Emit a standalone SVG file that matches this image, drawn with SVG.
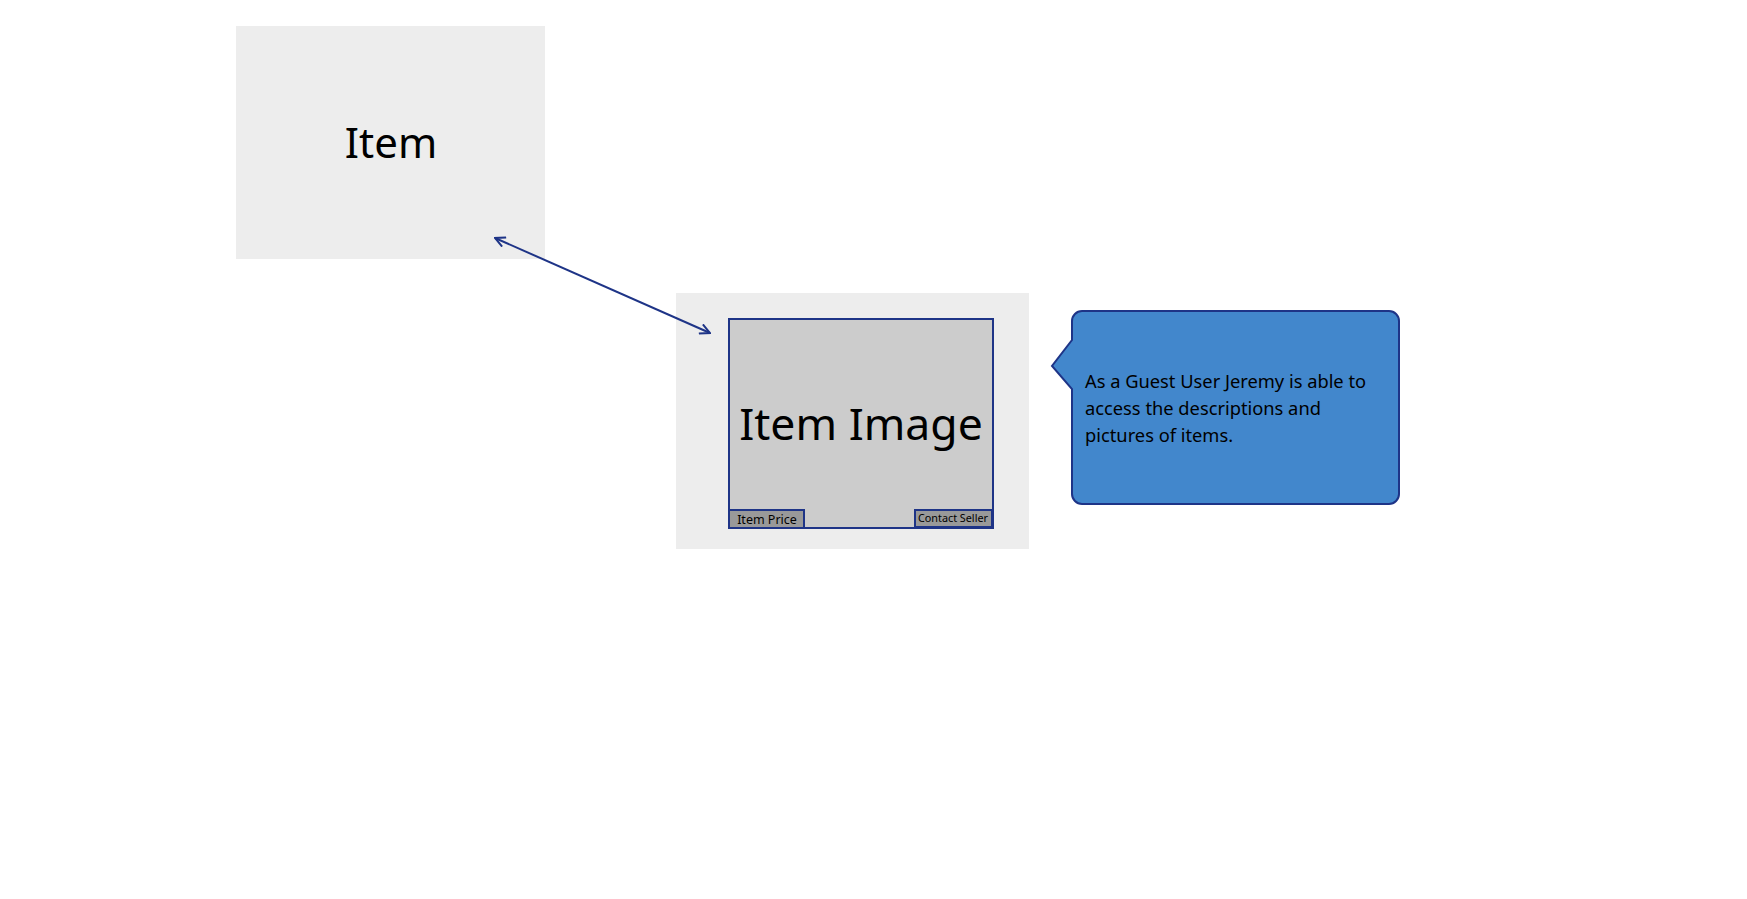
<svg xmlns="http://www.w3.org/2000/svg" width="1747" height="899" viewBox="0 0 1747 899">
<style>
.panel{fill:#ededed}
.img{fill:#cccccc;stroke:#1e3487;stroke-width:2}
.tab{fill:#999999;stroke:#1e3487;stroke-width:2}
.t{font-family:"Noto Sans","Open Sans",sans-serif;fill:#000}
.conn{stroke:#1e3487;stroke-width:2;fill:none}
</style>
<defs>
<marker id="ah" viewBox="0 0 12 12" refX="11" refY="6" markerWidth="12" markerHeight="12" markerUnits="userSpaceOnUse" orient="auto-start-reverse">
<path d="M1,1 L11,6 L1,11" fill="none" stroke="#1e3487" stroke-width="2"/>
</marker>
</defs>
<rect width="1747" height="899" fill="#ffffff"/>
<g id="item">
<rect class="panel" x="236" y="26" width="309" height="233"/>
<text class="t" x="391" y="158" font-size="42" text-anchor="middle">Item</text>
</g>
<g id="item-card">
<rect class="panel" x="676" y="293" width="353" height="256"/>
<rect class="img" x="729" y="319" width="264" height="209"/>
<text class="t" x="861" y="440" font-size="44.5" text-anchor="middle">Item Image</text>
</g>
<g id="item-price">
<rect class="tab" x="729" y="510" width="75" height="18"/>
<text class="t" x="767" y="524" font-size="12.5" text-anchor="middle">Item Price</text>
</g>
<g id="contact-seller">
<rect class="tab" x="915" y="510" width="77" height="17"/>
<text class="t" x="953" y="522" font-size="10.8" text-anchor="middle">Contact Seller</text>
</g>
<g id="callout">
<path d="M1082,311 H1389 A10,10 0 0 1 1399,321 V494 A10,10 0 0 1 1389,504 H1082 A10,10 0 0 1 1072,494 V389 L1052,366 L1072,340 V321 A10,10 0 0 1 1082,311 Z" fill="#4287cc" stroke="#1e3487" stroke-width="2"/>
<text class="t" font-size="18.3">
<tspan x="1085" y="388">As a Guest User Jeremy is able to</tspan>
<tspan x="1085" y="415">access the descriptions and</tspan>
<tspan x="1085" y="442">pictures of items.</tspan>
</text>
</g>
<g id="connectors">
<line class="conn" x1="495" y1="238" x2="710" y2="333" marker-start="url(#ah)" marker-end="url(#ah)"/>
</g>
</svg>
